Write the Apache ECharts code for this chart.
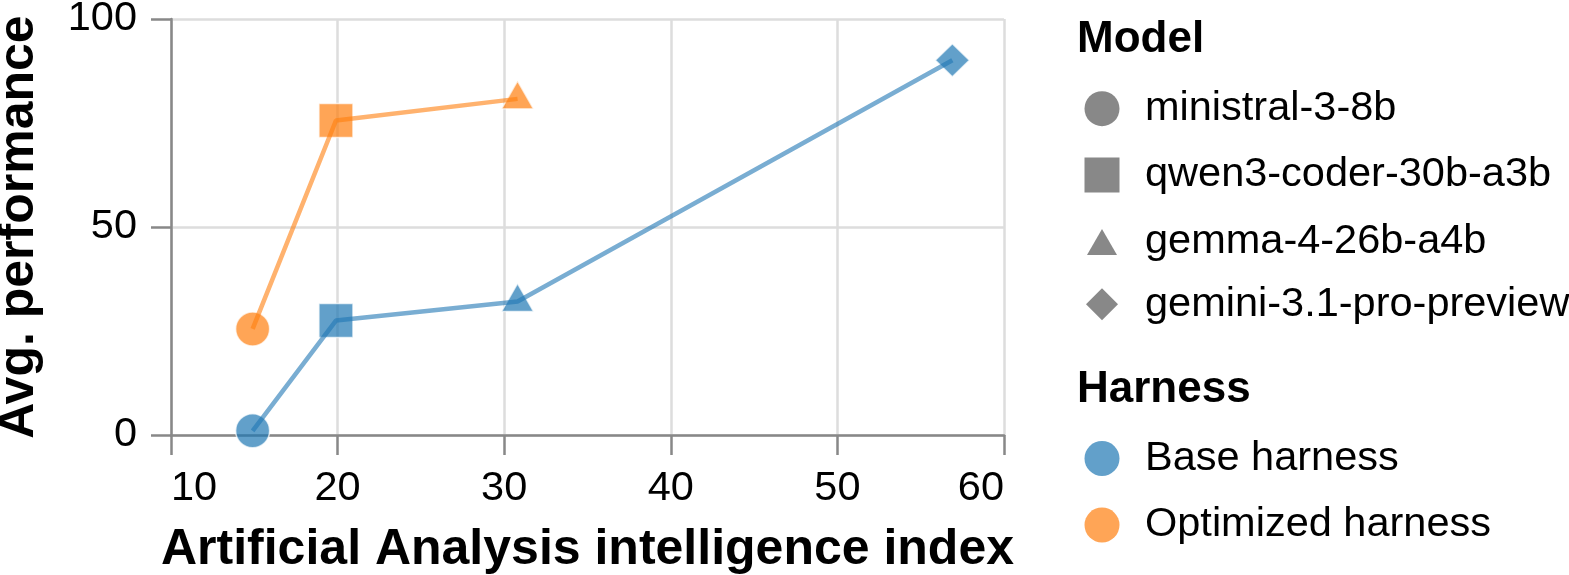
<!DOCTYPE html>
<html>
<head>
<meta charset="utf-8">
<script src="https://cdn.jsdelivr.net/npm/echarts@6/dist/echarts.min.js"></script>
<style>
html,body{margin:0;padding:0;background:#fff;}
#chart{width:1569px;height:575px;}
</style>
</head>
<body>
<div id="chart"></div>
<script>
// ---- data ----
const models = ['ministral-3-8b', 'qwen3-coder-30b-a3b', 'gemma-4-26b-a4b', 'gemini-3.1-pro-preview'];
const aaIndex = [14.9, 19.9, 30.8, 56.9];
const baseScore = [1.0, 27.5, 32.1, 90.1];
const optimizedScore = [25.5, 75.6, 80.8, null];
const harnesses = ['Base harness', 'Optimized harness'];
const xTicks = [10, 20, 30, 40, 50, 60];
const yTicks = [0, 50, 100];

// ---- styles ----
const FONT = 'Liberation Sans, Arial, sans-serif';
const BLUE = '#1f77b4', ORANGE = '#ff7f0e';
const symbols = ['circle', 'rect', 'triangle', 'diamond'];
const symSizes = [34, 34, [32, 28], [34, 33]];
const symOffsets = [[0,0],[0,0],[0,-4],[0,0]];
const legendSymSizes = [[35,35],[35,35],[30,26],[32,32]];
const modelRowCenters = [108.7, 175, 242, 304.3];
const harnessRowCenters = [458.5, 525];
const harnessLegendColors = ['#62a0ca', '#ffa556'];
const axisGray = '#888';
const LEG_FS = 41.5;

const scatterSeries = models.map((m, i) => {
  const pts = [];
  if (baseScore[i] != null) pts.push({value:[aaIndex[i], baseScore[i]], itemStyle:{color:BLUE}});
  if (optimizedScore[i] != null) pts.push({value:[aaIndex[i], optimizedScore[i]], itemStyle:{color:ORANGE}});
  return {
    type:'scatter', name:m, symbol:symbols[i], symbolSize:symSizes[i], symbolOffset:symOffsets[i],
    z:2, silent:true,
    itemStyle:{color:'#888', opacity:0.7, borderColor:'#fff', borderWidth:1.5},
    data:pts
  };
});

function linePts(ys){ const out=[]; ys.forEach((y,i)=>{ if(y!=null) out.push([aaIndex[i], y]); }); return out; }
const lineSeries = [
  {type:'line', name:harnesses[0], data:linePts(baseScore), color:BLUE, showSymbol:false, z:3, silent:true,
   lineStyle:{color:BLUE, width:4.5, opacity:0.6}},
  {type:'line', name:harnesses[1], data:linePts(optimizedScore), color:ORANGE, showSymbol:false, z:3, silent:true,
   lineStyle:{color:ORANGE, width:4.5, opacity:0.6}}
];

const ROW_H = 44;
function legendItem(name, icon, color, center, size) {
  return {
    orient:'vertical', left:1102 - size[0]/2, top:center - ROW_H/2, padding:0,
    itemWidth:size[0], itemHeight:size[1], selectedMode:false,
    textStyle:{fontFamily:FONT, fontSize:LEG_FS, color:'#000', lineHeight:ROW_H,
               padding:[0,0,0,1145 - (1102 + size[0]/2) - 5]},
    data:[{name:name, icon:icon, itemStyle:{color:color, opacity:1, borderWidth:0}}]
  };
}
const legends = models.map((m,i)=>legendItem(m, symbols[i], '#888', modelRowCenters[i], legendSymSizes[i]))
  .concat(harnesses.map((h,i)=>legendItem(h, 'circle', harnessLegendColors[i], harnessRowCenters[i], [35,35])));

const chart = echarts.init(document.getElementById('chart'), null, {renderer:'canvas'});
chart.setOption({
  animation:false,
  backgroundColor:'#fff',
  textStyle:{fontFamily:FONT},
  title:[
    {text:'Model', left:1077, top:39.8, textVerticalAlign:'middle', padding:0,
     textStyle:{fontFamily:FONT, fontSize:44, fontWeight:'bold', color:'#000', lineHeight:44}},
    {text:'Harness', left:1077, top:389.7, textVerticalAlign:'middle', padding:0,
     textStyle:{fontFamily:FONT, fontSize:44, fontWeight:'bold', color:'#000', lineHeight:44}}
  ],
  legend:legends,
  grid:{left:171, right:565, top:19, bottom:140, containLabel:false, outerBoundsMode:'none'},
  xAxis:{
    type:'value', min:xTicks[0], max:xTicks[xTicks.length-1], interval:10,
    name:'Artificial Analysis intelligence index', nameLocation:'middle', nameGap:90,
    nameTextStyle:{fontFamily:FONT, fontSize:50, fontWeight:'bold', color:'#000'},
    axisLine:{show:true, onZero:false, lineStyle:{color:axisGray, width:2.5}},
    axisTick:{show:true, length:20, lineStyle:{color:axisGray, width:2.5}},
    axisLabel:{fontFamily:FONT, fontSize:LEG_FS, color:'#000', margin:33, alignMinLabel:'left', alignMaxLabel:'right'},
    splitLine:{show:true, lineStyle:{color:'#ddd', width:2.5}}
  },
  yAxis:{
    type:'value', min:yTicks[0], max:yTicks[yTicks.length-1], interval:50,
    name:'Avg. performance', nameLocation:'middle', nameGap:127,
    nameTextStyle:{fontFamily:FONT, fontSize:50, fontWeight:'bold', color:'#000'},
    axisLine:{show:true, onZero:false, lineStyle:{color:axisGray, width:2.5}},
    axisTick:{show:true, length:20, lineStyle:{color:axisGray, width:2.5}},
    axisLabel:{fontFamily:FONT, fontSize:LEG_FS, color:'#000', margin:34},
    splitLine:{show:true, lineStyle:{color:'#ddd', width:2.5}}
  },
  series: scatterSeries.concat(lineSeries)
});
</script>
</body>
</html>
